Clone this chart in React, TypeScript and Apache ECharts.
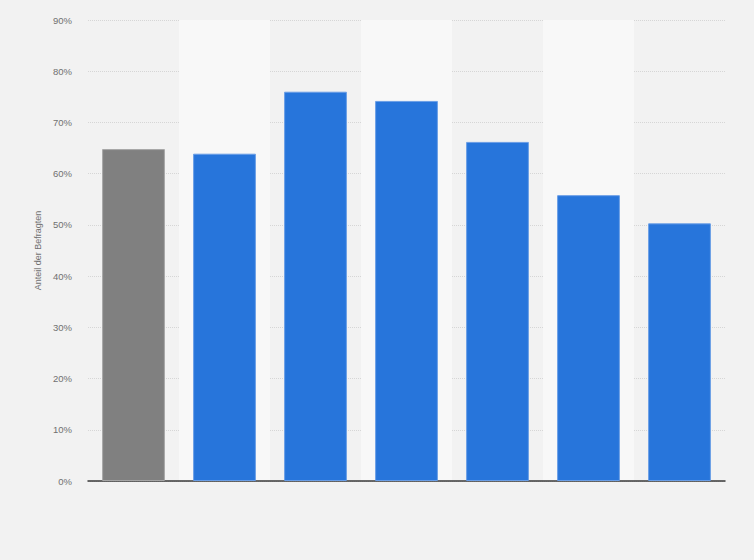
import React, { useEffect, useRef } from 'react';
import * as echarts from 'echarts';

// Categories are not labelled in the chart, the names are kept for the tooltip only
const categories = ['Gesamt', '16-29', '30-39', '40-49', '50-59', '60-69', '70+'];
const shares = [64.8, 63.9, 76.0, 74.2, 66.2, 55.8, 50.3];
const yTicks = { min: 0, max: 90, step: 10 };

const BLUE = '#2775db';
const GREY = '#808080';

export default function App() {
  const chartRef = useRef<HTMLDivElement>(null);

  useEffect(() => {
    if (!chartRef.current) return;
    const chart = echarts.init(chartRef.current, undefined, { renderer: 'svg' });

    const option = {
      animation: false,
      backgroundColor: '#f2f2f2',
      textStyle: { fontFamily: 'Liberation Sans, Arial, sans-serif' },
      grid: { left: 88, right: 29, top: 20, bottom: 79 },
      xAxis: {
        type: 'category',
        data: categories,
        axisLabel: { show: false },
        axisTick: { show: false },
        axisLine: { lineStyle: { color: '#3a3a3a', width: 1.5 } },
        splitArea: {
          show: true,
          areaStyle: { color: ['rgba(0,0,0,0)', '#f8f8f8'] }
        }
      },
      yAxis: {
        type: 'value',
        min: yTicks.min,
        max: yTicks.max,
        interval: yTicks.step,
        name: 'Anteil der Befragten',
        nameLocation: 'middle',
        nameGap: 44,
        nameTextStyle: { color: '#707070', fontSize: 9 },
        axisLine: { show: false },
        axisTick: { show: false },
        axisLabel: {
          formatter: '{value}%',
          color: '#707070',
          fontSize: 9.5,
          margin: 16
        },
        splitLine: { lineStyle: { color: '#d6d6d6', type: 'dotted', width: 1 } }
      },
      series: [
        {
          name: 'Anteil',
          type: 'bar',
          barWidth: '69%',
          data: shares.map((v, i) => ({
            value: v,
            itemStyle: i === 0
              ? { color: GREY, borderColor: '#a6a6a6', borderWidth: 1 }
              : { color: BLUE, borderColor: '#6a9ee6', borderWidth: 1 }
          }))
        }
      ]
    };

    chart.setOption(option);
    return () => chart.dispose();
  }, []);

  return (
    <div
      ref={chartRef}
      style={{ position: 'fixed', left: 0, top: 0, width: 754, height: 560 }}
    />
  );
}
